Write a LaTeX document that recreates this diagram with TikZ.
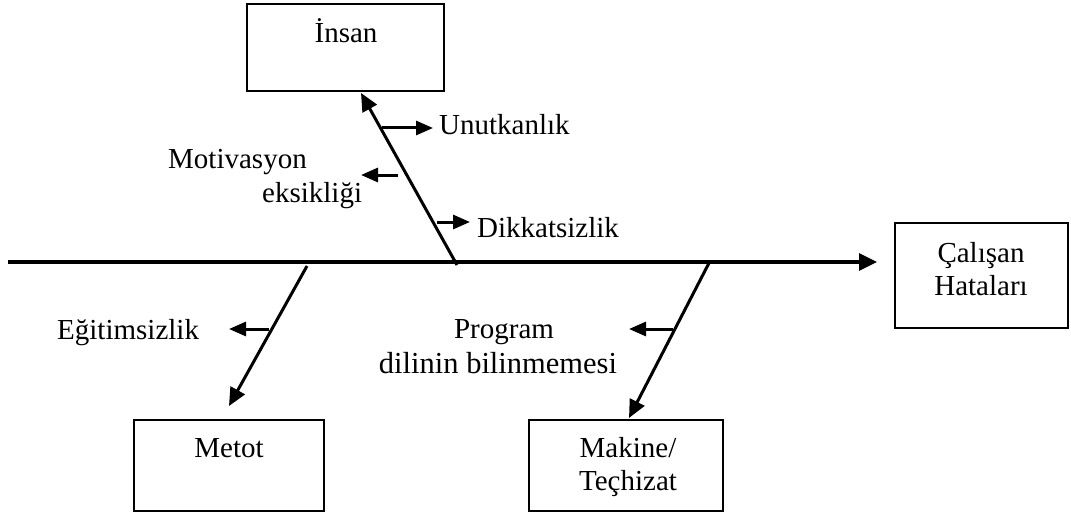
\documentclass[tikz,border=0pt]{standalone}
\usepackage{fontspec}
\setmainfont{Liberation Serif}
\usetikzlibrary{arrows.meta}
\begin{document}
\begin{tikzpicture}[x=1pt,y=-1pt,
  box/.style={draw, line width=2.6pt, inner sep=0pt},
  txt/.style={inner sep=0pt, font=\fontsize{29}{33}\selectfont},
  bigtxt/.style={inner sep=0pt, font=\fontsize{30.5}{34}\selectfont},
  spine/.style={line width=3.2pt, -{Triangle[length=18pt,width=17pt]}},
  bone/.style={line width=3pt, -{Triangle[length=18pt,width=16pt]}},
  twig/.style={line width=3pt, -{Triangle[length=17pt,width=14pt]}}]
\useasboundingbox (0,0) rectangle (1071,516);

% category boxes and the effect box
\node[box, minimum width=197pt, minimum height=87pt]  (insan)  at (345.5,47.5)  {};
\node[box, minimum width=173pt, minimum height=105pt] (hata)   at (981.5,275.5) {};
\node[box, minimum width=190pt, minimum height=91pt]  (metot)  at (229,465.5)   {};
\node[box, minimum width=194pt, minimum height=91pt]  (makine) at (626,465.5)   {};

% box captions
\node[txt, anchor=base] (tinsan)  at (346,43)  {İnsan};
\node[txt, anchor=base] (thata1)  at (981,262) {Çalışan};
\node[txt, anchor=base] (thata2)  at (981,295) {Hataları};
\node[txt, anchor=base] (tmetot)  at (229,457) {Metot};
\node[txt, anchor=base] (tmak1)   at (628,457) {Makine/};
\node[txt, anchor=base] (tmak2)   at (628,490) {Teçhizat};

% cause labels
\node[txt, anchor=base west] (unut)  at (439,135) {Unutkanlık};
\node[txt, anchor=base west] (moti1) at (168,168) {Motivasyon};
\node[txt, anchor=base west] (moti2) at (262,202) {eksikliği};
\node[txt, anchor=base west] (dikk)  at (477,237) {Dikkatsizlik};
\node[txt, anchor=base west] (egit)  at (57,339)  {Eğitimsizlik};
\node[txt, anchor=base] (prog1) at (504,338) {Program};
\node[bigtxt, anchor=base] (prog2) at (498,373) {dilinin bilinmemesi};

% spine
\coordinate (tail) at (8,262);
\coordinate (head) at (877,262);
\draw[spine] (tail) -- (head);

% main bones
\coordinate (j1) at (457,265); \coordinate (e1) at (361,93);
\coordinate (j2) at (307,266); \coordinate (e2) at (229,406);
\coordinate (j3) at (709,263); \coordinate (e3) at (629,418);
\draw[bone] (j1) -- (e1);
\draw[bone] (j2) -- (e2);
\draw[bone] (j3) -- (e3);

% cause arrows
\coordinate (u0) at (382,128); \coordinate (u1) at (433,128);
\coordinate (m0) at (398,175); \coordinate (m1) at (361,175);
\coordinate (d0) at (437,222); \coordinate (d1) at (470,222);
\coordinate (g0) at (269,329); \coordinate (g1) at (229,329);
\coordinate (p0) at (673,329); \coordinate (p1) at (629,329);
\draw[twig] (u0) -- (u1);
\draw[twig] (m0) -- (m1);
\draw[twig] (d0) -- (d1);
\draw[twig] (g0) -- (g1);
\draw[twig] (p0) -- (p1);
\end{tikzpicture}
\end{document}
